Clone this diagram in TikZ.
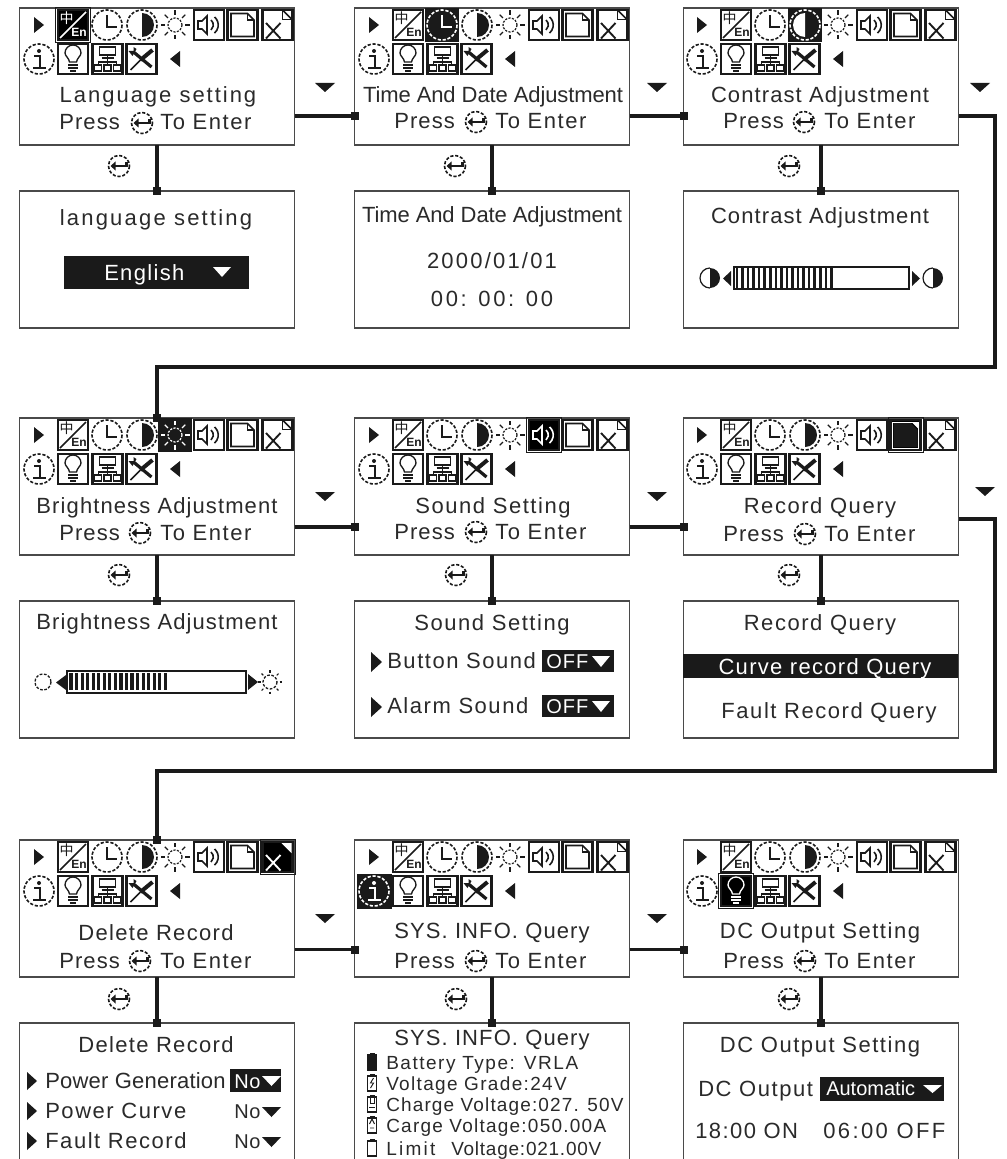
\documentclass[tikz,border=0pt]{standalone}
\usepackage{fontspec}
\usetikzlibrary{arrows.meta,calc}
\setmainfont{Liberation Sans}
\newfontfamily\cjk{Noto Sans CJK SC}
\definecolor{ink}{HTML}{1A1A1A}
\definecolor{txtc}{HTML}{2A2A2A}
\definecolor{edge}{HTML}{4A4A4A}
\colorlet{fg}{ink}\colorlet{bg}{white}
\tikzset{
  panelbox/.style={draw=edge,fill=white,line width=.8pt,minimum width=206.25pt,minimum height=102.75pt,anchor=north west,inner sep=0,outer sep=0},
  conn/.style={draw=ink,line width=2.4pt,-{Square[length=6pt,width=6pt]},shorten >=-3pt},
  ring/.style={line width=1.2pt,dash pattern=on 2.4pt off 1.3pt},
  thinl/.style={line width=1.6pt},
  lbl/.style={inner sep=0,text=txtc,anchor=base west},
  clbl/.style={inner sep=0,text=txtc,anchor=base},
}
\newcommand\LT[6]{\node[lbl] (#1) at (#2,#3) {\fontsize{\dimexpr#4pt*3/4\relax}{\dimexpr#4pt\relax}\selectfont\addfontfeature{LetterSpace=#5}#6};}
\newcommand\CT[6]{\node[clbl] (#1) at (#2,#3) {\fontsize{\dimexpr#4pt*3/4\relax}{\dimexpr#4pt\relax}\selectfont\addfontfeature{LetterSpace=#5}#6};}
\newcommand\WT[6]{\node[lbl,text=white] (#1) at (#2,#3) {\fontsize{\dimexpr#4pt*3/4\relax}{\dimexpr#4pt\relax}\selectfont\addfontfeature{LetterSpace=#5}#6};}
% triangles: left x, top y, right x, bottom y, colour
\newcommand\Tdown[5]{\fill[#5] (#1,#2) -- (#3,#2) -- ({(#1+#3)/2},#4) -- cycle;}
\newcommand\Tright[5]{\fill[#5] (#1,#2) -- (#3,{(#2+#4)/2}) -- (#1,#4) -- cycle;}
\newcommand\Tleft[5]{\fill[#5] (#3,#2) -- (#1,{(#2+#4)/2}) -- (#3,#4) -- cycle;}
% enter icon
\newcommand\Enter[2]{\begin{scope}[shift={(#1,#2)}]
  \draw[ink,ring] (0,0) circle (10.5);
  \draw[ink,line width=2pt] (-5,0) -- (7.5,0) -- (7.5,-4);
  \fill[ink] (-8.5,0) -- (-3.5,-4.5) -- (-3.5,4.5) -- cycle;
\end{scope}}
\newcommand\Press[5]{% name, xpress, xicon, xto, baseline
  \LT{#1-p}{#2}{#5}{22}{5}{Press}
  \Enter{#3}{#5-7}
  \LT{#1-e}{#4}{#5}{22}{7}{To Enter}}
\newcommand\sel[1]{\ifnum\hl=#1\relax\colorlet{fg}{white}\colorlet{bg}{black}\else\colorlet{fg}{ink}\colorlet{bg}{white}\fi}
\newcommand\ibox[1]{\ifnum\hl=#1\relax\draw[ink,line width=.6pt] (-17.5,-17.5) rectangle (17.5,17.5);\fi
  \draw[draw=ink,fill=bg,thinl] (-15,-15) rectangle (15,15);}
\newcommand\Icons[4]{% name, x0, y0, highlighted
\begin{scope}[shift={(#2,#3)}]
\def\hl{#4}
\Tright{14}{9}{24}{25}{ink}
\Tleft{150}{43}{160}{59}{ink}
% language
\begin{scope}[shift={(53,17)}]\sel{1}\ibox{1}
  \draw[fg,line width=1.1pt] (-13,13) -- (13,-13);
  \node[inner sep=0,text=fg] (#1-zh) at (-6.5,-7) {\cjk\fontsize{10.5pt}{11pt}\selectfont 中};
  \node[inner sep=0,text=fg] (#1-en) at (6,7.5) {\fontsize{9pt}{10pt}\selectfont\bfseries En};
\end{scope}
% clock
\begin{scope}[shift={(87,17)}]\sel{2}
  \ifnum\hl=2\relax\fill[ink] (-17,-17) rectangle (17,17);\fi
  \draw[fg,ring] (0,0) circle (15);
  \draw[fg,line width=2.1pt] (0,-10) -- (0,2) -- (10,2);
\end{scope}
% contrast
\begin{scope}[shift={(122,17)}]\sel{3}
  \ifnum\hl=3\relax
    \fill[ink] (-17,-17) rectangle (17,17);
    \fill[white] (0,12) arc (90:270:12) -- cycle;
  \else
    \fill[fg] (0,12) arc (90:-90:12) -- cycle;
  \fi
  \draw[fg,ring] (0,0) circle (15);
\end{scope}
% sun
\begin{scope}[shift={(155,17)}]\sel{4}
  \ifnum\hl=4\relax\fill[ink] (-17,-17) rectangle (17,17);\fi
  \draw[fg,line width=.9pt,dash pattern=on 1.6pt off 1pt] (0,0) circle (7);
  \foreach \a in {0,45,...,315} {\draw[fg,line width=1pt] (\a:10) -- (\a:14.5);}
\end{scope}
% sound
\begin{scope}[shift={(189,17)}]\sel{5}\ibox{5}
  \draw[fg,line width=1.3pt] (-11,-4) -- (-7,-4) -- (-2,-9) -- (-2,9) -- (-7,4) -- (-11,4) -- cycle;
  \draw[fg,line width=1.2pt] (2,-5) arc (-50:50:6.5);
  \draw[fg,line width=1.2pt] (5.5,-8) arc (-50:50:10.5);
\end{scope}
% record
\begin{scope}[shift={(222.5,17)}]\sel{6}\ibox{6}
  \ifnum\hl=6\relax
    \fill[ink] (-12,-12) -- (5,-12) -- (12,-5) -- (12,12) -- (-12,12) -- cycle;
    \fill[white] (6,-13) -- (13,-13) -- (13,-6) -- cycle;
    \draw[white,line width=.6pt] (-13,-13) rectangle (13,13);
  \else
    \draw[fg,line width=1.2pt] (-11.5,-11.5) -- (5,-11.5) -- (11.5,-5) -- (11.5,11.5) -- (-11.5,11.5) -- cycle;
    \draw[fg,line width=.8pt] (5,-11.5) -- (5,-5) -- (11.5,-5);
  \fi
\end{scope}
% delete
\begin{scope}[shift={(257.5,17)}]\sel{7}\ibox{7}
  \ifnum\hl=7\relax
    \fill[white] (4,-14) -- (14,-14) -- (14,-4) -- cycle;
  \else
    \draw[fg,line width=1.2pt] (5,-15) -- (14.5,-5.5);
    \draw[fg,line width=1.1pt] (5,-15) -- (5,-5.5) -- (14.5,-5.5);
  \fi
  \draw[fg,line width=1.4pt] (-11.5,-2) -- (3,13.5) (3,-2) -- (-11.5,13.5);
\end{scope}
% info
\begin{scope}[shift={(19,51)}]\sel{8}
  \ifnum\hl=8\relax\fill[ink] (-17.5,-17.5) rectangle (17.5,17.5);\fi
  \draw[fg,ring] (0,0) circle (15);
  \fill[fg] (0,-8) circle (2);
  \draw[fg,line width=1.6pt] (-5,-3) -- (1,-3) -- (1,9);
  \draw[fg,line width=1.6pt] (-6,9) -- (7,9);
\end{scope}
% bulb
\begin{scope}[shift={(53,51)}]\sel{9}\ibox{9}
  \draw[fg,line width=1pt] (-3.5,3) .. controls (-4,-1) and (-8,-3) .. (-8,-6) arc (180:360:8) .. controls (8,-3) and (4,-1) .. (3.5,3) -- cycle;
  \draw[fg,line width=1.1pt] (-5,6) -- (5,6) (-5,9) -- (5,9) (-3,12) -- (3,12);
\end{scope}
% network
\begin{scope}[shift={(87.5,51)}]\sel{0}\ibox{10}
  \draw[ink,line width=1.1pt] (-8,-12) rectangle (8,-4);
  \draw[ink,line width=1.1pt] (-6,-1) -- (6,-1) (0,-4) -- (0,6) (-9,6) -- (-9,3) -- (9,3) -- (9,6);
  \draw[ink,line width=1pt] (-13,6) rectangle (-6,12) (-3.5,6) rectangle (3.5,12) (6,6) rectangle (13,12);
\end{scope}
% tools
\begin{scope}[shift={(121.5,51)}]\sel{0}\ibox{10}
  \draw[ink,line width=2.4pt] (-8,-7) -- (10,8);
  \draw[ink,line width=3pt] (11,-9) -- (-1,1);
  \draw[ink,line width=1.1pt] (-1,1) -- (-11,11);
  \fill[ink] (-13,-8) -- (-9,-3) -- (-5,-10) -- (-8,-12) -- (-8,-8) -- cycle;
\end{scope}
\end{scope}}
\newcommand\Ticks[5]{% from x, to x, top, bottom, width
  \pgfmathsetmacro\tnext{#1+5.55}
  \foreach \tx in {#1,\tnext,...,#2} {\draw[ink,line width=#5] (\tx,#3) -- (\tx,#4);}}
\newcommand\Batt[3]{% x,y centre, fill
  \draw[ink,line width=.8pt,fill=#3] (#1-4.5,#2-7) rectangle (#1+4.5,#2+8);
  \fill[ink] (#1-2.5,#2-9) rectangle (#1+2.5,#2-7);}
\begin{document}
\begin{tikzpicture}[x=0.75pt,y=-0.75pt]
\useasboundingbox (0,0) rectangle (1006,1159);
\fill[white] (0,0) rectangle (1006,1159);
% panels
\node[panelbox] (a1) at (19.5,8) {};
\node[panelbox] (a2) at (354.5,8) {};
\node[panelbox] (a3) at (683.5,8) {};
\node[panelbox] (s1) at (19.5,191) {};
\node[panelbox] (s2) at (354.5,191) {};
\node[panelbox] (s3) at (683.5,191) {};
\node[panelbox] (b1) at (19.5,418) {};
\node[panelbox] (b2) at (354.5,418) {};
\node[panelbox] (b3) at (683.5,418) {};
\node[panelbox] (u1) at (19.5,601) {};
\node[panelbox] (u2) at (354.5,601) {};
\node[panelbox] (u3) at (683.5,601) {};
\node[panelbox] (c1) at (19.5,840) {};
\node[panelbox] (c2) at (354.5,840) {};
\node[panelbox] (c3) at (683.5,840) {};
\node[panelbox] (v1) at (19.5,1023) {};
\node[panelbox] (v2) at (354.5,1023) {};
\node[panelbox] (v3) at (683.5,1023) {};
% connectors
\coordinate (bus1) at (995,367);
\coordinate (bus2) at (995,771);
\draw[conn] ([yshift=-29.6pt]a1.east) -- ([yshift=-29.6pt]a2.west);
\draw[conn] ([yshift=-29.6pt]a2.east) -- ([yshift=-29.6pt]a3.west);
\draw[conn] ([yshift=-30.4pt]b1.east) -- ([yshift=-30.4pt]b2.west);
\draw[conn] ([yshift=-30.4pt]b2.east) -- ([yshift=-30.4pt]b3.west);
\draw[conn] ([yshift=-31pt]c1.east) -- ([yshift=-31pt]c2.west);
\draw[conn] ([yshift=-31pt]c2.east) -- ([yshift=-31pt]c3.west);
\draw[conn] (a1.south) -- (s1.north);
\draw[conn] (a2.south) -- (s2.north);
\draw[conn] (a3.south) -- (s3.north);
\draw[conn] (b1.south) -- (u1.north);
\draw[conn] (b2.south) -- (u2.north);
\draw[conn] (b3.south) -- (u3.north);
\draw[conn] (c1.south) -- (v1.north);
\draw[conn] (c2.south) -- (v2.north);
\draw[conn] (c3.south) -- (v3.north);
\draw[conn] ([yshift=-29.6pt]a3.east) -| (bus1) -| (b1.north);
\draw[conn] ([yshift=-24.4pt]b3.east) -| (bus2) -| (c1.north);
% direction triangles
\Tdown{315}{83}{335}{92}{ink}
\Tdown{647}{83}{667}{92}{ink}
\Tdown{970}{83}{990}{92}{ink}
\Tdown{315}{492}{335}{501}{ink}
\Tdown{647}{492}{667}{501}{ink}
\Tdown{975}{487}{995}{496}{ink}
\Tdown{315}{914}{335}{923}{ink}
\Tdown{647}{914}{667}{923}{ink}
% enter marks between screens
\Enter{119}{166}\Enter{455}{166}\Enter{789}{166}
\Enter{119}{575}\Enter{456}{575}\Enter{789}{575}
\Enter{119}{999}\Enter{456}{999}\Enter{789}{999}
% icon rows
\Icons{a1}{20}{8}{1}
\Icons{a2}{355}{8}{2}
\Icons{a3}{683}{8}{3}
\Icons{b1}{20}{418}{4}
\Icons{b2}{355}{418}{5}
\Icons{b3}{683}{418}{6}
\Icons{c1}{20}{840}{7}
\Icons{c2}{355}{840}{8}
\Icons{c3}{683}{840}{9}
% top row
\CT{a1-t}{158}{103}{22}{9}{Language setting}
\Press{a1}{59}{142}{160}{130}
\CT{a2-t}{493}{103}{22}{-0.5}{Time And Date Adjustment}
\Press{a2}{394}{476}{495}{129}
\CT{a3-t}{820}{103}{22}{5}{Contrast Adjustment}
\Press{a3}{723}{804}{824}{129}
% top sub screens
\CT{s1-t}{156}{225}{22}{10}{language setting}
\fill[ink] (64,256) rectangle (249,289);
\WT{s1-v}{104}{280}{22}{6}{English}
\Tdown{213}{267}{231}{277}{white}
\CT{s2-t}{492}{222}{22}{-0.5}{Time And Date Adjustment}
\CT{s2-d}{492}{268}{22}{10}{2000/01/01}
\CT{s2-c}{492}{306}{22}{12}{00: 00: 00}
\CT{s3-t}{820}{223}{22}{5}{Contrast Adjustment}
\fill[ink] (710,288) arc (90:-90:10) -- cycle;
\draw[ink,line width=.9pt] (710,288) arc (90:270:10);
\Tleft{723}{271}{731}{286}{ink}
\draw[ink,line width=1.5pt] (734,267) rectangle (909,289);
\Ticks{737}{834}{268}{288}{1.9pt}
\Tright{912}{271}{920}{286}{ink}
\fill[ink] (933,288) arc (90:-90:10) -- cycle;
\draw[ink,line width=.9pt] (933,288) arc (90:270:10);
% middle row
\CT{b1-t}{157}{513}{22}{5}{Brightness Adjustment}
\Press{b1}{59}{140}{160}{540}
\CT{b2-t}{493}{513}{22}{7}{Sound Setting}
\Press{b2}{394}{476}{495}{539}
\CT{b3-t}{820}{513}{22}{7}{Record Query}
\Press{b3}{723}{805}{824}{541}
% middle sub screens
\CT{u1-t}{157}{629}{22}{5}{Brightness Adjustment}
\draw[ink,line width=1pt,dash pattern=on 2pt off 1.2pt] (43,682) circle (8);
\Tleft{56}{675}{66}{690}{ink}
\draw[ink,line width=1.5pt] (67,671) rectangle (246,693);
\Ticks{71}{169}{673}{690}{2.4pt}
\Tright{248}{674}{258}{690}{ink}
\draw[ink,line width=1pt,dash pattern=on 2pt off 1.2pt] (270,682) circle (7);
\foreach \a in {0,45,...,315} {\draw[ink,line width=.8pt] ($(270,682)+(\a:9.5)$) -- ($(270,682)+(\a:12)$);}
\CT{u2-t}{492}{630}{22}{7}{Sound Setting}
\Tright{371}{652}{382}{672}{ink}
\LT{u2-a}{387}{668}{22}{7}{Button Sound}
\fill[ink] (542,650) rectangle (614,672);
\WT{u2-b}{546}{668}{20}{5}{OFF}
\Tdown{592}{656}{610}{667}{white}
\Tright{371}{697}{382}{717}{ink}
\LT{u2-c}{387}{713}{22}{7}{Alarm Sound}
\fill[ink] (542,695) rectangle (614,717);
\WT{u2-d}{546}{713}{20}{5}{OFF}
\Tdown{592}{701}{610}{712}{white}
\CT{u3-t}{820}{630}{22}{7}{Record Query}
\fill[ink] (683,654) rectangle (958,678);
\node[clbl,text=white] (u3-a) at (825,674) {\fontsize{16.5pt}{22pt}\selectfont\addfontfeature{LetterSpace=6}Curve record Query};
\CT{u3-b}{829}{718}{22}{7}{Fault Record Query}
% bottom row
\CT{c1-t}{156}{940}{22}{6}{Delete Record}
\Press{c1}{59}{140}{160}{968}
\CT{c2-t}{492}{938}{22}{5}{SYS. INFO. Query}
\Press{c2}{394}{476}{495}{968}
\CT{c3-t}{820}{938}{22}{7}{DC Output Setting}
\Press{c3}{723}{805}{824}{968}
% bottom sub screens
\CT{v1-t}{156}{1052}{22}{6}{Delete Record}
\Tright{27}{1072}{37}{1090}{ink}
\LT{v1-a}{45}{1088}{22}{1}{Power Generation}
\fill[ink] (230,1069) rectangle (281,1092);
\WT{v1-b}{234}{1088}{20}{3}{No}
\Tdown{262}{1076}{281}{1086}{white}
\Tright{27}{1102}{37}{1120}{ink}
\LT{v1-c}{45}{1118}{22}{7}{Power Curve}
\LT{v1-d}{234}{1118}{20}{3}{No}
\Tdown{262}{1107}{281}{1117}{ink}
\Tright{27}{1132}{37}{1150}{ink}
\LT{v1-e}{45}{1148}{22}{7}{Fault Record}
\LT{v1-f}{234}{1148}{20}{3}{No}
\Tdown{262}{1137}{281}{1147}{ink}
\CT{v2-t}{492}{1045}{22}{5}{SYS. INFO. Query}
\Batt{372}{1062}{ink}
\LT{v2-a}{386}{1069}{19}{8}{Battery Type: VRLA}
\Batt{372}{1083}{white}
\draw[ink,line width=.7pt] (373.5,1078) -- (370.5,1083) -- (373.5,1083) -- (370.5,1088);
\LT{v2-b}{386}{1090}{19}{7}{Voltage Grade:24V}
\Batt{372}{1104}{white}
\draw[ink,line width=.7pt] (370,1098) -- (370,1103) -- (374,1103) -- (374,1098) (369,1107) -- (375,1107);
\LT{v2-c}{386}{1111}{19}{6}{Charge Voltage:027. 50V}
\Batt{372}{1125}{white}
\draw[ink,line width=.7pt] (369.5,1124) -- (372,1119) -- (374.5,1124) (370,1128) -- (374,1128);
\LT{v2-d}{386}{1132}{19}{6.5}{Carge Voltage:050.00A}
\Batt{372}{1148}{white}
\LT{v2-e}{386}{1155}{19}{12}{Limit}
\LT{v2-f}{451}{1155}{19}{4}{Voltage:021.00V}
\CT{v3-t}{820}{1052}{22}{7}{DC Output Setting}
\LT{v3-a}{698}{1096}{22}{7}{DC Output}
\fill[ink] (820,1077) rectangle (944,1101);
\WT{v3-b}{826}{1095}{20}{0}{Automatic}
\Tdown{923}{1085}{942}{1093}{white}
\LT{v3-c}{695}{1138}{22}{6.5}{18:00 ON}
\LT{v3-d}{823}{1138}{22}{11}{06:00 OFF}
\end{tikzpicture}
\end{document}
